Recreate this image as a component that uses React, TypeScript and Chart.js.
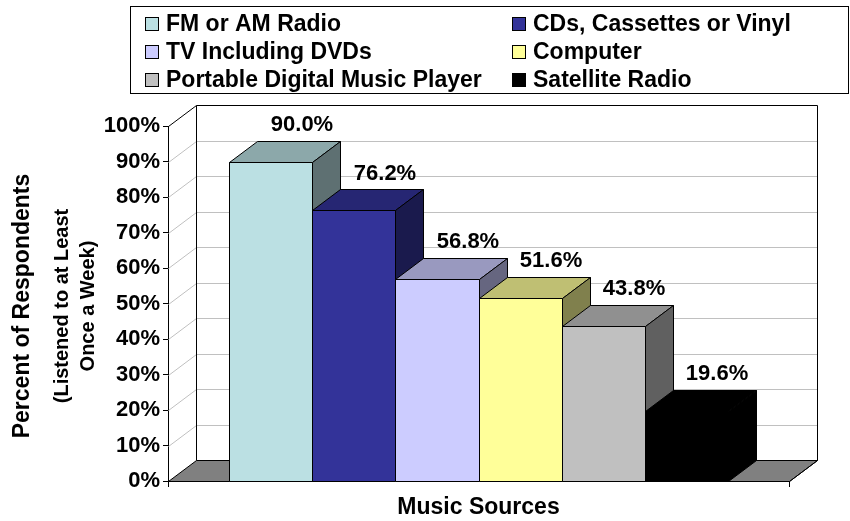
import React, { useEffect, useRef } from 'react';
import { Chart, registerables } from 'chart.js';

Chart.register(...registerables);

// ---- Data ----
const categories = [''];
const seriesLabels = [
  'FM or AM Radio',
  'CDs, Cassettes or Vinyl',
  'TV Including DVDs',
  'Computer',
  'Portable Digital Music Player',
  'Satellite Radio',
];
const seriesValues = [90.0, 76.2, 56.8, 51.6, 43.8, 19.6];
const seriesColors = ['#BBE0E3', '#333399', '#CCCCFF', '#FFFF99', '#C0C0C0', '#000000'];
const yMin = 0;
const yMax = 100;
const yStep = 10;
const xAxisTitle = 'Music Sources';
const yAxisTitleLines = ['Percent of Respondents', '(Listened to at Least', 'Once a Week)'];

const FONT = '"Liberation Sans", Arial, Helvetica, sans-serif';
const DX = 28;
const DY = 21;

function shade(hex: string, f: number): string {
  const n = parseInt(hex.slice(1), 16);
  const r = Math.round(((n >> 16) & 255) * f);
  const g = Math.round(((n >> 8) & 255) * f);
  const b = Math.round((n & 255) * f);
  return `rgb(${r},${g},${b})`;
}

function poly(ctx: CanvasRenderingContext2D, pts: number[][], fill: string | null, stroke: string | null) {
  ctx.beginPath();
  ctx.moveTo(pts[0][0], pts[0][1]);
  for (let i = 1; i < pts.length; i++) ctx.lineTo(pts[i][0], pts[i][1]);
  ctx.closePath();
  if (fill) {
    ctx.fillStyle = fill;
    ctx.fill();
  }
  if (stroke) {
    ctx.strokeStyle = stroke;
    ctx.lineWidth = 1;
    ctx.stroke();
  }
}

function line(ctx: CanvasRenderingContext2D, pts: number[][], color: string) {
  ctx.beginPath();
  ctx.moveTo(pts[0][0], pts[0][1]);
  for (let i = 1; i < pts.length; i++) ctx.lineTo(pts[i][0], pts[i][1]);
  ctx.strokeStyle = color;
  ctx.lineWidth = 1;
  ctx.stroke();
}

const threeDPlugin = {
  id: 'threeD',
  beforeDatasetsDraw(chart: any) {
    const { ctx, chartArea } = chart;
    const yScale = chart.scales.y;
    const L = Math.round(chartArea.left) + 0.5;
    const R = Math.round(chartArea.right) + 0.5;
    const T = Math.round(chartArea.top) + 0.5;
    const B = Math.round(chartArea.bottom) + 0.5;
    ctx.save();
    // floor
    poly(ctx, [[L, B], [L + DX, B - DY], [R + DX, B - DY], [R, B]], '#808080', '#000');
    // gridlines on side wall and back wall
    for (let v = yMin + yStep; v < yMax; v += yStep) {
      const py = Math.round(yScale.getPixelForValue(v)) + 0.5;
      line(ctx, [[L, py], [L + DX, py - DY], [R + DX, py - DY]], '#C0C0C0');
    }
    // back wall edges
    line(ctx, [[L, T], [L + DX, T - DY], [R + DX, T - DY], [R + DX, B - DY]], '#000');
    line(ctx, [[L + DX, T - DY], [L + DX, B - DY]], '#000');
    line(ctx, [[R, B], [R + DX, B - DY]], '#000');
    ctx.restore();
  },
  afterDatasetsDraw(chart: any) {
    const { ctx } = chart;
    ctx.save();
    const bars: any[] = [];
    chart.data.datasets.forEach((ds: any, i: number) => {
      const meta = chart.getDatasetMeta(i);
      meta.data.forEach((el: any, j: number) => {
        const p = el.getProps(['x', 'y', 'base', 'width'], true);
        bars.push({ p, color: ds.backgroundColor, value: ds.data[j] });
      });
    });
    bars.sort((a, b) => a.p.x - b.p.x);
    bars.forEach(({ p, color }) => {
      const l = Math.round(p.x - p.width / 2) + 0.5;
      const r = Math.round(p.x + p.width / 2) + 0.5;
      const t = Math.round(p.y) + 0.5;
      const b = Math.round(p.base) + 0.5;
      // front
      poly(ctx, [[l, t], [r, t], [r, b], [l, b]], color, '#000');
      // top
      poly(ctx, [[l, t], [l + DX, t - DY], [r + DX, t - DY], [r, t]], shade(color, 0.75), '#000');
      // side
      poly(ctx, [[r, t], [r + DX, t - DY], [r + DX, b - DY], [r, b]], shade(color, 0.5), '#000');
    });
    // data labels
    ctx.font = `bold 22px ${FONT}`;
    ctx.fillStyle = '#000';
    ctx.textAlign = 'center';
    ctx.textBaseline = 'middle';
    bars.forEach(({ p, value }) => {
      ctx.fillText(value.toFixed(1) + '%', p.x + 31, p.y - 37);
    });
    ctx.restore();
  },
};

const legendPlugin = {
  id: 'boxLegend',
  afterDraw(chart: any) {
    const { ctx } = chart;
    ctx.save();
    ctx.lineWidth = 1;
    ctx.strokeStyle = '#000';
    ctx.strokeRect(130.5, 6.5, 718, 87);
    ctx.font = `bold 23px ${FONT}`;
    ctx.textAlign = 'left';
    ctx.textBaseline = 'alphabetic';
    chart.data.datasets.forEach((ds: any, i: number) => {
      const col = i % 2;
      const row = Math.floor(i / 2);
      const sx = col ? 512 : 145;
      const base = 31 + 28 * row;
      ctx.fillStyle = ds.backgroundColor;
      ctx.fillRect(sx + 0.5, base - 13.5, 13, 13);
      ctx.strokeStyle = '#000';
      ctx.strokeRect(sx + 0.5, base - 13.5, 13, 13);
      ctx.fillStyle = '#000';
      ctx.fillText(ds.label, sx + 21, base);
    });
    ctx.restore();
  },
};

const yTitlePlugin = {
  id: 'yTitle',
  afterDraw(chart: any) {
    const { ctx } = chart;
    const specs = [
      { x: 29, size: 23 },
      { x: 68, size: 20 },
      { x: 94, size: 20 },
    ];
    const cy = 306;
    ctx.save();
    ctx.fillStyle = '#000';
    ctx.textAlign = 'center';
    ctx.textBaseline = 'alphabetic';
    yAxisTitleLines.forEach((txt, i) => {
      const s = specs[i];
      ctx.save();
      ctx.translate(s.x, cy);
      ctx.rotate(-Math.PI / 2);
      ctx.font = `bold ${s.size}px ${FONT}`;
      ctx.fillText(txt, 0, 0);
      ctx.restore();
    });
    ctx.restore();
  },
};

export default function App() {
  const ref = useRef<HTMLCanvasElement>(null);
  useEffect(() => {
    const canvas = ref.current;
    if (!canvas) return;
    Chart.defaults.font.family = FONT;
    const chart = new Chart(canvas, {
      type: 'bar',
      data: {
        labels: categories,
        datasets: seriesLabels.map((label, i) => ({
          label,
          data: [seriesValues[i]],
          backgroundColor: seriesColors[i],
          borderWidth: 0,
          categoryPercentage: 0.802,
          barPercentage: 1,
        })),
      },
      options: {
        responsive: false,
        animation: false,
        events: [],
        layout: { padding: { left: 0, top: 126, right: 61, bottom: 0 } },
        plugins: {
          legend: { display: false },
          tooltip: { enabled: false },
        },
        scales: {
          x: {
            type: 'category',
            grid: { display: true, drawOnChartArea: false, drawTicks: true, tickLength: 6, color: '#000', offset: true },
            border: { display: true, color: '#000' },
            ticks: { display: false },
            title: {
              display: true,
              text: xAxisTitle,
              font: { size: 23, weight: 'bold' },
              color: '#000',
              padding: { top: 0, bottom: 0 },
            },
            afterFit: (s: any) => {
              s.height = 40;
            },
          },
          y: {
            min: yMin,
            max: yMax,
            ticks: {
              stepSize: yStep,
              callback: (v: any) => v + '%',
              font: { size: 22, weight: 'bold' },
              color: '#000',
              padding: 3,
            },
            grid: { drawOnChartArea: false, drawTicks: true, tickLength: 5, color: '#000' },
            border: { display: true, color: '#000' },
            afterFit: (s: any) => {
              s.width = 168;
            },
          },
        },
      } as any,
      plugins: [threeDPlugin, legendPlugin, yTitlePlugin],
    });
    return () => chart.destroy();
  }, []);
  return (
    <div style={{ position: 'absolute', left: 0, top: 0, width: 850, height: 521, background: '#fff' }}>
      <canvas ref={ref} width={850} height={521} style={{ display: 'block' }} />
    </div>
  );
}
